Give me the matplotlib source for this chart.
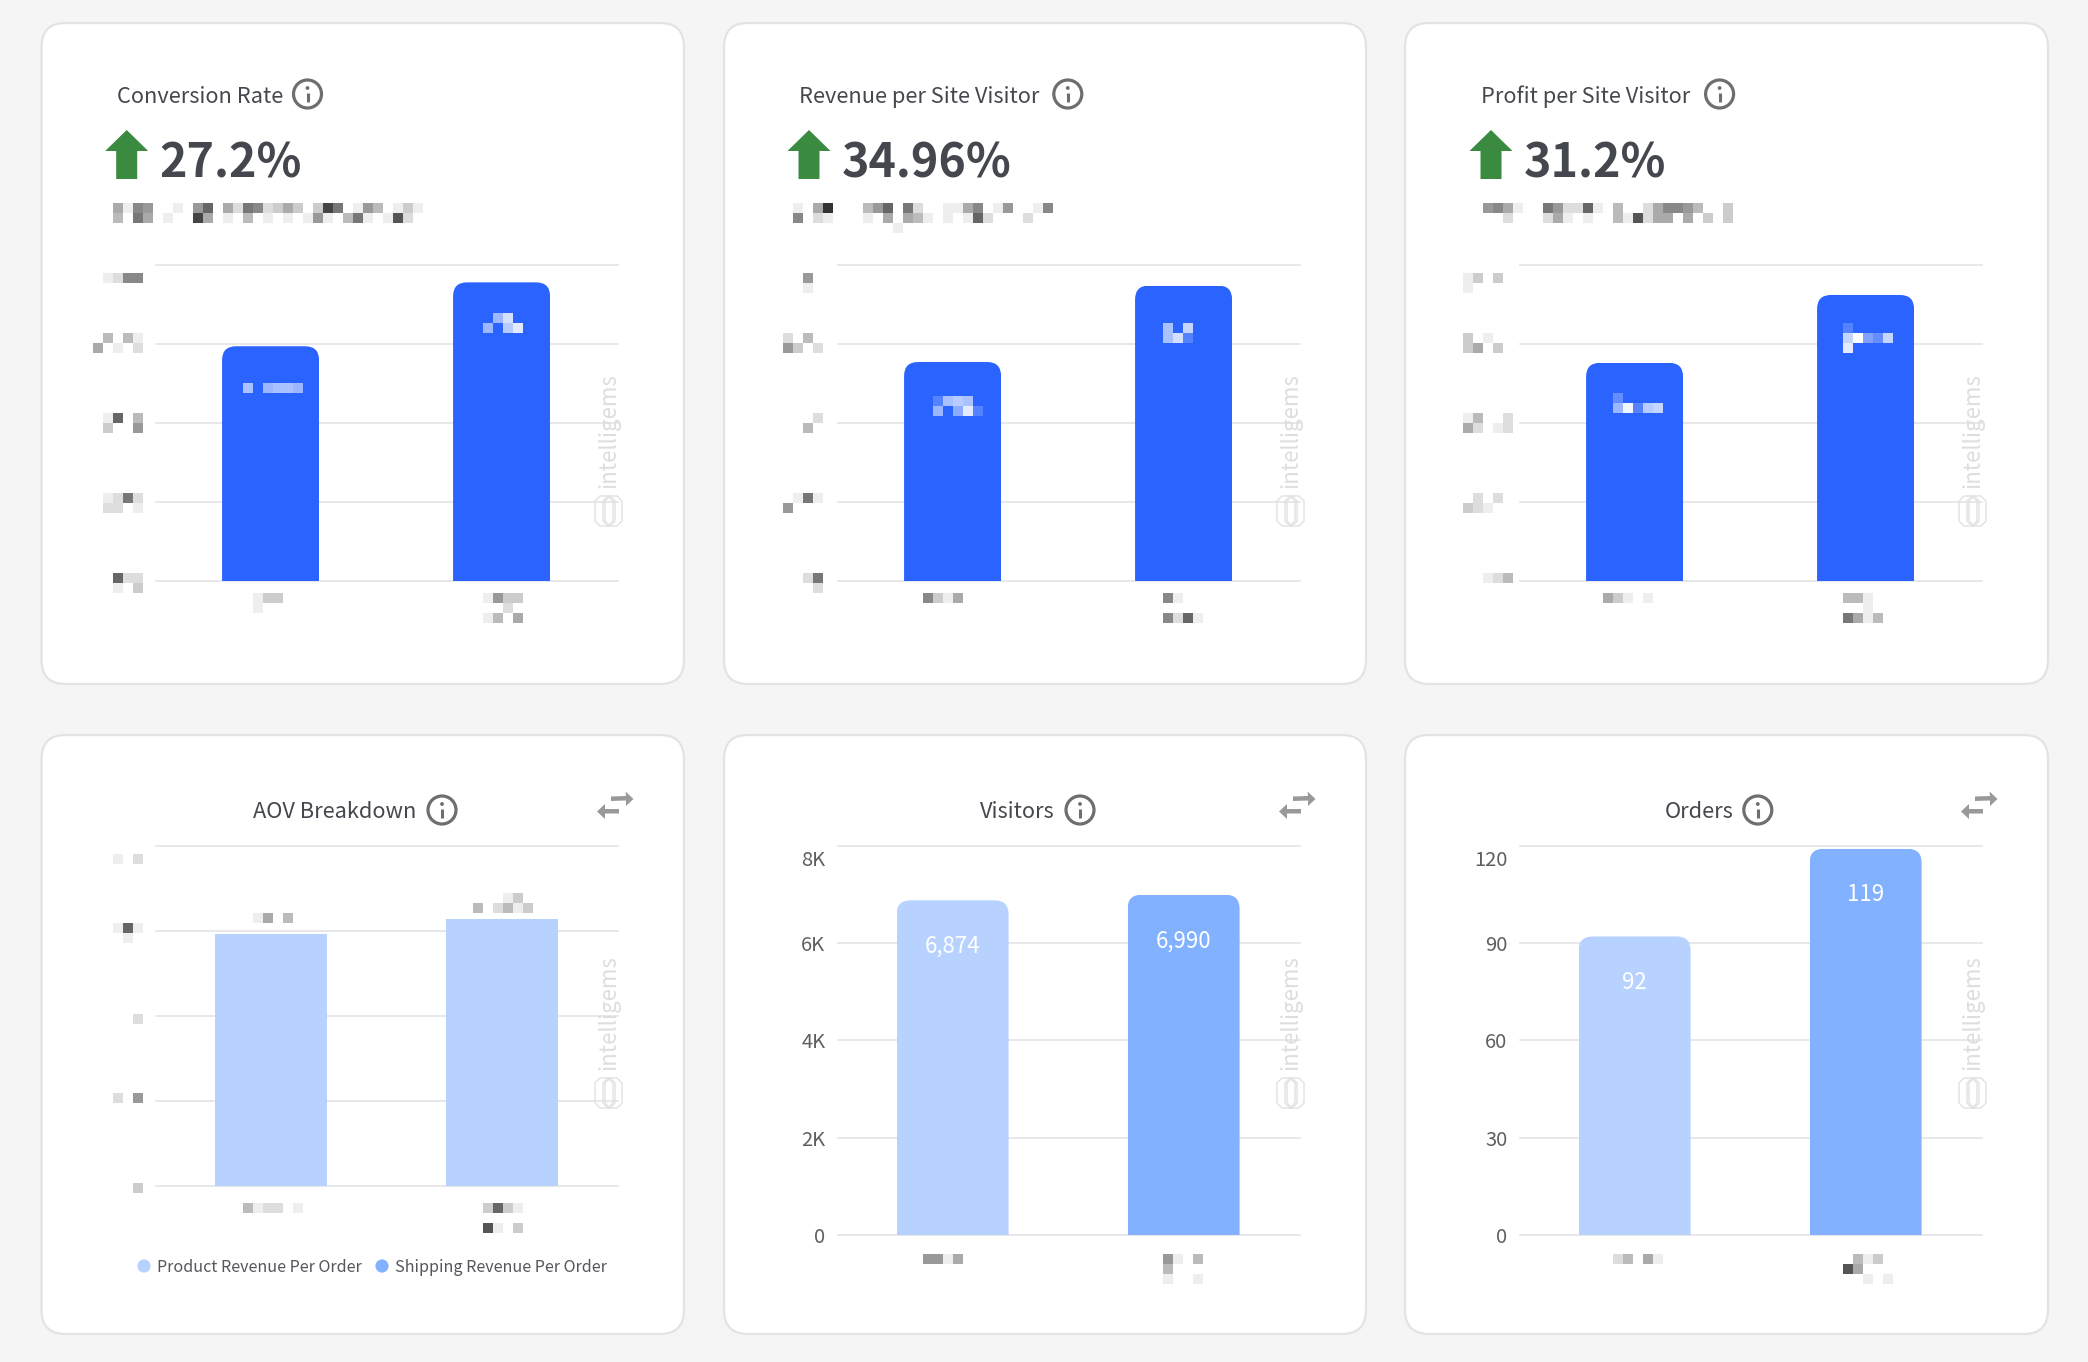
import matplotlib
matplotlib.use("Agg")
import matplotlib.pyplot as plt
from matplotlib.patches import FancyBboxPatch, Polygon, Rectangle, Circle
from matplotlib.transforms import IdentityTransform, ScaledTranslation

plt.rcParams['font.family'] = ['Noto Sans CJK SC', 'DejaVu Sans']

W, H = 2088, 1362

# data
categories = ['Control', 'Variant']
conv_rate = [2.97, 3.78]
rev_visitor = [2.77, 3.74]
profit_visitor = [2.76, 3.62]
aov_product = [2.957, 3.137]
visitors = [6874, 6990]
orders = [92, 119]
visitor_ticks = [0, 2000, 4000, 6000, 8000]
visitor_ticklabels = ['0', '2K', '4K', '6K', '8K']
order_ticks = [0, 30, 60, 90, 120]
order_ticklabels = ['0', '30', '60', '90', '120']
hidden_ticks = [0, 1, 2, 3, 4]
top_titles = ['Conversion Rate', 'Revenue per Site Visitor', 'Profit per Site Visitor']
top_lifts = ['27.2%', '34.96%', '31.2%']
bottom_titles = ['AOV Breakdown', 'Visitors', 'Orders']
legend_labels = ['Product Revenue Per Order', 'Shipping Revenue Per Order']

BLUE = '#2b63ff'
LIGHT = '#b7d2ff'
MID = '#82b1ff'
DARK = '#45474f'
GRID = '#e4e4e6'

fig = plt.figure(figsize=(W / 100, H / 100), dpi=100, facecolor='#f5f5f5')

# overlays in pixel coords, y going down
bg = fig.add_axes([0, 0, 1, 1], zorder=0)
fg = fig.add_axes([0, 0, 1, 1], zorder=5)
for a in (bg, fg):
    a.set_xlim(0, W)
    a.set_ylim(H, 0)
    a.axis('off')
    a.patch.set_alpha(0)


def card(x0, y0, x1, y1):
    r = 24
    bg.add_patch(FancyBboxPatch((x0 + r, y0 + r), x1 - x0 - 2 * r, y1 - y0 - 2 * r,
                                boxstyle='round,pad=%d,rounding_size=%d' % (r, r),
                                fc='white', ec='#e3e3e3', lw=1.6))


def chart_axes(x0, x1, ytop, ybase, ymax, ticks):
    ax = fig.add_axes([x0 / W, 1 - ybase / H, (x1 - x0) / W, (ybase - ytop) / H], zorder=1)
    ax.patch.set_alpha(0)
    ax.set_xlim(-0.496, 1.504)
    ax.set_ylim(0, ymax)
    ax.set_yticks(ticks)
    ax.set_xticks([])
    ax.yaxis.grid(True, color=GRID, lw=1.2)
    ax.set_axisbelow(True)
    ax.tick_params(axis='y', length=0, pad=9, labelsize=14.5, labelcolor='#5f5f63')
    for line in ax.get_ygridlines():
        line.set_clip_on(False)
    for s in ax.spines.values():
        s.set_visible(False)
    return ax


def round_top(bar, ax, r=14):
    # clip the bar so only the top corners get rounded
    x0, y1 = ax.transData.transform((bar.get_x(), bar.get_height()))
    x1, y0 = ax.transData.transform((bar.get_x() + bar.get_width(), 0))
    clip = FancyBboxPatch((x0 + r, y0 - 40), x1 - x0 - 2 * r, y1 - y0 + 40 - r,
                          boxstyle='round,pad=%d,rounding_size=%d' % (r, r),
                          transform=IdentityTransform())
    bar.set_clip_path(clip)


def info_icon(x, y):
    fg.add_patch(Circle((x, y), 14, fc='none', ec='#6e6e6e', lw=2.3))
    fg.add_patch(Circle((x, y - 6), 1.9, fc='#6e6e6e', ec='none'))
    fg.plot([x, x], [y - 1.5, y + 8], color='#6e6e6e', lw=2.2, solid_capstyle='butt')


def up_arrow(x):
    pts = [(x, 130), (x + 21.5, 151), (x + 10.5, 151), (x + 10.5, 179),
           (x - 10.5, 179), (x - 10.5, 151), (x - 21.5, 151)]
    fg.add_patch(Polygon(pts, fc='#3a8a3f', ec='none'))


def swap_icon(dx):
    col = '#999999'
    fg.add_patch(Polygon([(611 + dx, 796.5), (626 + dx, 796), (625.5 + dx, 791.5), (633.5 + dx, 799),
                          (626 + dx, 806), (626 + dx, 800.5), (611 + dx, 801)], fc=col, ec='none'))
    fg.add_patch(Polygon([(597 + dx, 811.5), (605 + dx, 804), (605 + dx, 809), (619 + dx, 809),
                          (619 + dx, 813.5), (605 + dx, 813.5), (605 + dx, 819)], fc=col, ec='none'))


def watermark(dx, ytop):
    # ytop = top of the text in pixels
    col = '#dedede'
    fg.text(609 + dx, ytop + 110, 'intelligems', rotation=90, ha='center', va='bottom',
            fontsize=16, color=col)
    ly = ytop + 118
    for xa, xb in ((595, 615), (603, 622), (605, 613)):
        xa += dx
        xb += dx
        c = 5
        pts = [(xa + c, ly), (xb - c, ly), (xb, ly + c), (xb, ly + 25), (xb - c, ly + 30),
               (xa + c, ly + 30), (xa, ly + 25), (xa, ly + c)]
        fg.add_patch(Polygon(pts, fc='none', ec='#e2e2e2', lw=1))


def mosaic(ox, oy, sy, items, base=None):
    # blurred placeholders: each char is a hex level, '.' leaves the cell empty
    cw = 10.0
    ch = 10.0
    for zx, zy, rows in items:
        px = ox + zx / 2.306
        py = oy + zy / sy
        for j, row in enumerate(rows):
            for i, c in enumerate(row):
                if c == '.':
                    continue
                v = int(c, 16) / 15
                if base is None:
                    col = (v, v, v)
                else:
                    col = tuple(b + (1 - b) * v for b in base)
                fg.add_patch(Rectangle((px + i * cw, py + j * ch), cw, ch, fc=col, ec='none', antialiased=False))


# cards
card_x = [(41.5, 684), (724, 1366), (1405, 2048)]
for x0, x1 in card_x:
    card(x0, 23, x1, 684)
    card(x0, 735, x1, 1334)

offs = [0, 682, 1364]
top_series = [conv_rate, rev_visitor, profit_visitor]
title_x = [117, 799, 1481]
icon_x = [307.5, 1067.8, 1719.6]
arrow_x = [126.7, 809, 1491]
lift_x = [159, 841.7, 1524]

# top row
for i in range(3):
    ax = chart_axes(156 + offs[i], 618 + offs[i], 265, 580.5, 4, hidden_ticks)
    ax.set_yticklabels([])
    bars = ax.bar([0, 1], top_series[i], width=0.42, color=BLUE, zorder=3)
    for b in bars:
        round_top(b, ax)
    fg.text(title_x[i], 97, top_titles[i], fontsize=15.7, fontweight='medium', color=DARK, va='center', ha='left')
    info_icon(icon_x[i], 94)
    up_arrow(arrow_x[i])
    fg.text(lift_x[i], 178, top_lifts[i], fontsize=33.5, fontweight='bold', color=DARK, va='baseline', ha='left')
    watermark(offs[i], 378)

# bottom row
ax4 = chart_axes(156, 618, 845.5, 1186, 4, hidden_ticks)
ax4.set_yticklabels([])
ax4.bar([0, 1], aov_product, width=0.485, color=LIGHT, zorder=3)

bottom_data = [(visitors, visitor_ticks, visitor_ticklabels, 8000, '{:,}'),
               (orders, order_ticks, order_ticklabels, 120, '{}')]
for k, (vals, ticks, ticklabels, ymax, fmt) in enumerate(bottom_data):
    dx = offs[k + 1]
    ax = chart_axes(156 + dx, 618 + dx, 845.5, 1235.3, ymax, ticks)
    ax.set_yticklabels(ticklabels)
    # the top label sits under its gridline
    top = ax.get_yticklabels()[-1]
    top.set_transform(top.get_transform() + ScaledTranslation(0, -12 / 100, fig.dpi_scale_trans))
    bars = ax.bar([0, 1], vals, width=0.485, color=[LIGHT, MID], zorder=3)
    for b in bars:
        round_top(b, ax)
    for j, v in enumerate(vals):
        ax.annotate(fmt.format(v), (j, v), xytext=(0, -46 * 0.72), textcoords='offset points',
                    ha='center', va='center', color='white', fontsize=16, fontweight='medium', zorder=4)

title_cx = [334.5, 1017, 1699.5]
icon_bx = [442, 1080, 1757.8]
for i in range(3):
    fg.text(title_cx[i], 812, bottom_titles[i], fontsize=15.7, fontweight='medium', color=DARK, va='center', ha='center')
    info_icon(icon_bx[i], 810)
    swap_icon(offs[i])
    watermark(offs[i], 960)

# legend for the AOV card
fg.scatter([144, 382], [1266, 1266], s=90, color=[LIGHT, MID], linewidths=0)
fg.text(156.6, 1267, legend_labels[0], fontsize=11.6, color='#55565c', va='center', ha='left')
fg.text(394.7, 1267, legend_labels[1], fontsize=11.6, color='#55565c', va='center', ha='left')

# blurred text
mosaic(30, 20, 2.306, [
    (191, 421, ['ae89..e.96.ad78dcac.c47.e9b.ece', 'b.7a.e..4a.e.b.e.e.e9e.b7e.e5d.']),
    (168, 583, ['ed88']),
    (145, 722, ['.b.be', 'a.e.d']),
    (168, 906, ['e6.b', 'c..9']),
    (145, 1091, ['.ed7d', '.dd.e']),
    (191, 1275, ['6dd', 'e.c']),
    (491, 1321, ['fecc', '.ef']),
    (1045, 1321, ['e9cc', '..d.', 'ebfa']),
])
mosaic(720, 20, 2.306, [
    (168, 421, ['e.a3..fb96.7d..eea8.e9..e8', '8fde.f.efa.abe.efe6d...d..', '..........e']),
    (191, 583, ['9', 'e']),
    (145, 722, ['d.b.', '9c.d']),
    (191, 906, ['fd', 'b.']),
    (145, 1091, ['.e7e', '9.ff']),
    (191, 1275, ['d7', '.d']),
    (468, 1321, ['8cea']),
    (1022, 1321, ['8eff', '....', '8d6e']),
])
mosaic(1400, 20, 2.306, [
    (191, 421, ['98ae..79dd6e.b.fda889b.fc', '..d...dae.e.fbe5daa.a.c.c']),
    (145, 583, ['ec.cf', 'e....']),
    (145, 722, ['cfef.', 'ca.cf']),
    (145, 906, ['ebffd', 'adfed']),
    (145, 1091, ['.d.d.', 'cdef.']),
    (191, 1275, ['edb']),
    (468, 1321, ['acefe']),
    (1022, 1321, ['bbef', '..e.', '7aeb']),
])
mosaic(30, 730, 2.529, [
    (168, 288, ['...f', 'fe.d']),
    (191, 488, ['e6e', '.e.']),
    (237, 717, ['d']),
    (191, 918, ['d.9']),
    (237, 1146, ['c']),
    (491, 1196, ['beddfe']),
    (1045, 1196, ['c6ce', '....', '5e.c']),
    (468, 464, ['f.ea.b']),
    (1022, 411, ['...ecf', 'b.dbec']),
])
mosaic(720, 730, 2.529, [
    (468, 1324, ['99eaf']),
    (1022, 1324, ['9efb', 'bf..', 'e..e']),
])
mosaic(1400, 730, 2.529, [
    (468, 1299, ['f', '.db.ae']),
    (1022, 1299, ['ff', '.bec', '5a', '..e.e']),
])

# blurred labels sitting on the blue bars
blue_rgb = (43 / 255, 99 / 255, 1.0)
mosaic(30, 20, 2.306, [(491, 837, ['9.8998']), (1045, 676, ['.8c.', '8.ad'])], base=blue_rgb)
mosaic(720, 20, 2.306, [(491, 867, ['39a9.', '8.7d3']), (1022, 699, ['9.b', '9c3'])], base=blue_rgb)
mosaic(1400, 20, 2.306, [(491, 860, ['4', '8e3ab']), (1022, 699, ['3', 'bf64b', 'd'])], base=blue_rgb)

fig.savefig('out.png', dpi=100, facecolor=fig.get_facecolor())
